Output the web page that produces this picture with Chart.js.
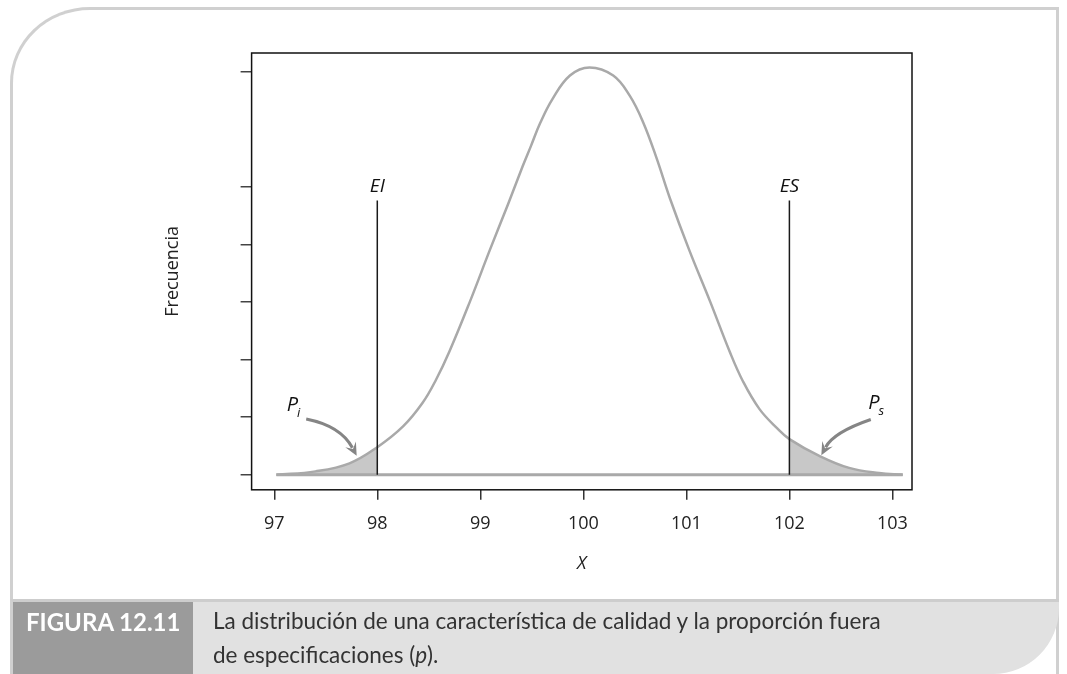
<!DOCTYPE html>
<html>
<head>
<meta charset="utf-8">
<script src="https://cdn.jsdelivr.net/npm/chart.js@4.4.1/dist/chart.umd.min.js"></script>
<style>
html, body { margin: 0; padding: 0; background: #fff; }
body { width: 1067px; height: 674px; position: relative; overflow: hidden; }
#frame { position: absolute; left: 10px; top: 7px; width: 1049px; height: 667px; box-sizing: border-box;
  border: 3px solid #d0d0d0; border-bottom: none; border-top-left-radius: 80px 76px; }
#wrap { position: absolute; left: 0; top: 0; width: 1067px; height: 600px; }
#cap { position: absolute; left: 10px; top: 599px; width: 1049px; height: 75px; box-sizing: border-box;
  background: #e1e1e1; border-top: 3px solid #cdcdcd; border-left: 3px solid #d0d0d0;
  border-bottom-right-radius: 66px; display: flex; }
#fig { width: 180px; background: #9b9b9b; color: #fff; font: bold 24px Lato, sans-serif; padding: 5px 0 0 13px; box-sizing: border-box; }
#txt { padding: 2px 0 0 20px; font: 22.5px Lato, sans-serif; color: #333; line-height: 34px; }
</style>
</head>
<body>
<div id="frame"></div>
<div id="wrap"><canvas id="chart" width="1067" height="600"></canvas></div>
<div id="cap">
  <div id="fig">FIGURA 12.11</div>
  <div id="txt">La distribución de una característica de calidad y la proporción fuera<br>de especificaciones (<i>p</i>).</div>
</div>
<script>
// curve (x, height in tick units)
var curveX = [97.02, 97.40, 97.73, 98.00, 98.25, 98.44, 98.57, 98.70, 98.90, 99.09, 99.27, 99.41, 99.49, 99.58, 99.70, 99.87,
  100.06, 100.29, 100.45, 100.58, 100.71, 100.84, 101.03, 101.23, 101.42, 101.55, 101.71, 101.88, 102.00, 102.29, 102.58, 102.87, 103.10];
var curveY = [0, 0.06, 0.20, 0.48, 0.84, 1.25, 1.65, 2.14, 3.01, 3.89, 4.70, 5.35, 5.70, 6.10, 6.52, 6.93,
  7.07, 6.93, 6.58, 6.12, 5.50, 4.80, 3.89, 3.01, 2.14, 1.62, 1.14, 0.81, 0.62, 0.33, 0.12, 0.03, 0];
var specLimits = [98, 102];
var specLabels = ['EI', 'ES'];
var specHeight = 4.76;
var xTicks = [97, 98, 99, 100, 101, 102, 103];
var yTicks = [0, 1, 2, 3, 4, 5, 7];

// P labels and arrows: label position, then arrow start, control, tip
var pLabels = [['P', 'i'], ['P', 's']];
var pLabelAt = [[97.175, 1.20], [102.82, 1.24]];
var arrowPaths = [
  [[97.31, 0.97], [97.645, 0.85], [97.80, 0.33]],
  [[102.79, 0.96], [102.43, 0.74], [102.31, 0.34]]
];

var pts = curveX.map(function (x, i) { return { x: x, y: curveY[i] }; });
var leftTail = pts.filter(function (p) { return p.x <= specLimits[0]; });
var rightTail = pts.filter(function (p) { return p.x >= specLimits[1]; });
var baseline = [{ x: curveX[0], y: 0 }, { x: curveX[curveX.length - 1], y: 0 }];

var grey = '#a9a9a9';
var datasets = [
  { data: leftTail, borderWidth: 0, backgroundColor: '#c8c8c8', fill: 'origin', order: 5 },
  { data: rightTail, borderWidth: 0, backgroundColor: '#c8c8c8', fill: 'origin', order: 5 },
  { data: baseline, borderColor: grey, borderWidth: 3, order: 4 },
  { data: pts, borderColor: grey, borderWidth: 2.5, order: 3 }
];
specLimits.forEach(function (v) {
  datasets.push({ data: [{ x: v, y: 0 }, { x: v, y: specHeight }], borderColor: '#1a1a1a', borderWidth: 1.5, order: 1 });
});

var extras = {
  id: 'extras',
  afterDraw: function (chart) {
    var ctx = chart.ctx, a = chart.chartArea, x = chart.scales.x, y = chart.scales.y;
    ctx.save();
    ctx.strokeStyle = '#111';
    ctx.lineWidth = 1.5;
    ctx.strokeRect(a.left, a.top, a.right - a.left, a.bottom - a.top);

    ctx.fillStyle = '#111';
    ctx.textAlign = 'center';
    ctx.textBaseline = 'middle';
    ctx.font = 'italic 19px "Open Sans"';
    specLimits.forEach(function (v, i) {
      ctx.fillText(specLabels[i], x.getPixelForValue(v), y.getPixelForValue(specHeight) - 14);
    });

    pLabels.forEach(function (lab, i) {
      var px = x.getPixelForValue(pLabelAt[i][0]), py = y.getPixelForValue(pLabelAt[i][1]);
      ctx.font = 'italic 20px "Open Sans"';
      ctx.textAlign = 'center';
      ctx.fillText(lab[0], px, py);
      var w = ctx.measureText(lab[0]).width;
      ctx.font = 'italic 13px "Open Sans"';
      ctx.textAlign = 'left';
      ctx.fillText(lab[1], px + w / 2 - 1, py + 8);
    });

    ctx.strokeStyle = '#858585';
    ctx.fillStyle = '#858585';
    ctx.lineWidth = 3;
    arrowPaths.forEach(function (p) {
      var s = [x.getPixelForValue(p[0][0]), y.getPixelForValue(p[0][1])];
      var c = [x.getPixelForValue(p[1][0]), y.getPixelForValue(p[1][1])];
      var t = [x.getPixelForValue(p[2][0]), y.getPixelForValue(p[2][1])];
      var dx = t[0] - c[0], dy = t[1] - c[1], len = Math.sqrt(dx * dx + dy * dy);
      var ux = dx / len, uy = dy / len, head = 13;
      ctx.beginPath();
      ctx.moveTo(s[0], s[1]);
      ctx.quadraticCurveTo(c[0], c[1], t[0] - ux * head * 0.7, t[1] - uy * head * 0.7);
      ctx.stroke();
      ctx.beginPath();
      ctx.moveTo(t[0], t[1]);
      ctx.lineTo(t[0] - ux * head - uy * 6, t[1] - uy * head + ux * 6);
      ctx.lineTo(t[0] - ux * head * 0.6, t[1] - uy * head * 0.6);
      ctx.lineTo(t[0] - ux * head + uy * 6, t[1] - uy * head - ux * 6);
      ctx.closePath();
      ctx.fill();
    });
    ctx.restore();
  }
};

new Chart(document.getElementById('chart'), {
  type: 'line',
  data: { datasets: datasets },
  options: {
    responsive: false,
    animation: false,
    layout: { padding: { left: 158, right: 155, top: 53, bottom: 25 } },
    plugins: { legend: { display: false }, tooltip: { enabled: false } },
    elements: {
      point: { radius: 0 },
      line: { tension: 0.4, fill: false }
    },
    scales: {
      x: {
        type: 'linear', min: 96.78, max: 103.19,
        afterBuildTicks: function (s) { s.ticks = xTicks.map(function (v) { return { value: v }; }); },
        grid: { drawOnChartArea: false, tickLength: 10, color: '#333', lineWidth: 1.5 },
        border: { display: false },
        ticks: { padding: 13, color: '#222', font: { family: 'Open Sans', size: 18 }, maxRotation: 0, autoSkip: false },
        title: { display: true, text: 'X', color: '#222', font: { family: 'Open Sans', size: 18, style: 'italic' }, padding: { top: 6, bottom: 0 } }
      },
      y: {
        type: 'linear', min: -0.26, max: 7.32,
        afterBuildTicks: function (s) { s.ticks = yTicks.map(function (v) { return { value: v }; }); },
        grid: { drawOnChartArea: false, tickLength: 11, color: '#444', lineWidth: 1.5 },
        border: { display: false },
        ticks: { display: false },
        title: { display: true, text: 'Frecuencia', color: '#222', font: { family: 'Open Sans', size: 18 }, padding: { top: 4, bottom: 57 } }
      }
    }
  },
  plugins: [extras]
});
</script>
</body>
</html>
